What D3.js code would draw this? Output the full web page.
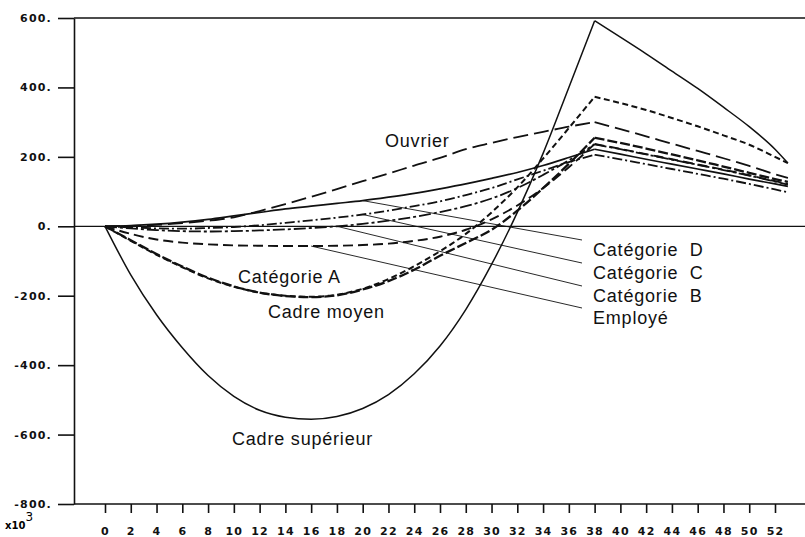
<!DOCTYPE html>
<html>
<head>
<meta charset="utf-8">
<script src="https://cdn.jsdelivr.net/npm/d3@7"></script>
<style>
  body { margin: 0; background: #fff; }
  .lbl { font-family: "Liberation Sans", Arial, sans-serif; font-size: 18px; letter-spacing: 0.8px; fill: #111; }
  .axis text { font-family: "DejaVu Sans", sans-serif; font-weight: bold; font-size: 11px; letter-spacing: 1.2px; fill: #111; }
  .axis line, .axis path { stroke: #111; stroke-width: 1.6px; }
</style>
</head>
<body>
<svg id="canvas"></svg>
<script>
// data (age, thousands)
const ages = [0, 2, 4, 6, 8, 10, 12, 14, 16, 18, 20, 22, 24, 26, 28, 30, 32, 34, 36, 38, 40, 42, 44, 46, 48, 50, 52, 53];

const cadreSup   = [0, -140, -255, -350, -430, -490, -530, -550, -556, -548, -525, -485, -425, -345, -240, -110, 40, 210, 400, 592, 545, 497, 447, 397, 343, 287, 222, 182];
const cadreMoyen = [0, -42, -82, -118, -150, -174, -191, -200, -203, -197, -180, -152, -115, -72, -22, 40, 112, 195, 283, 373, 355, 335, 312, 288, 262, 235, 200, 182];
const catA       = [0, -40, -80, -116, -148, -173, -191, -201, -204, -199, -182, -158, -125, -85, -48, -10, 45, 110, 180, 255, 240, 224, 207, 190, 172, 154, 136, 128];
const ouvrier    = [0, 1, 4, 9, 16, 26, 44, 64, 85, 107, 130, 152, 175, 197, 222, 240, 257, 272, 287, 300, 280, 259, 238, 217, 196, 174, 150, 139];
const employe    = [0, -22, -38, -47, -52, -55, -56, -57, -57, -56, -54, -50, -42, -30, -10, 20, 60, 110, 170, 237, 223, 208, 193, 178, 163, 147, 130, 122];
const catB       = [0, -6, -11, -14, -15, -14, -12, -9, -5, 0, 7, 16, 27, 41, 58, 80, 110, 148, 190, 236, 222, 207, 192, 177, 162, 146, 129, 120];
const catD       = [0, 2, 6, 12, 20, 30, 40, 50, 58, 66, 74, 84, 95, 108, 122, 138, 155, 175, 198, 222, 208, 193, 179, 165, 151, 136, 122, 115];
const catC       = [0, -3, -6, -7, -5, -2, 3, 10, 17, 25, 34, 45, 58, 72, 90, 110, 135, 160, 185, 206, 193, 179, 165, 151, 137, 122, 106, 98];

const xTicks = d3.range(0, 53, 2);
const yTicks = [600, 400, 200, 0, -200, -400, -600, -800];

// series: name, values, dash, width
const series = [
  ['Cadre supérieur', cadreSup, null, 1.5],
  ['Cadre moyen', cadreMoyen, '6,3.5', 2],
  ['Catégorie A', catA, '10,3', 2.3],
  ['Ouvrier', ouvrier, '15,6', 1.8],
  ['Employé', employe, '10,5', 1.9],
  ['Catégorie B', catB, '12,3,3,3', 1.8],
  ['Catégorie D', catD, null, 1.7],
  ['Catégorie C', catC, '10,3,2,3', 1.8]
];

// curve labels: text, x, y (baseline)
const curveLabels = [
  ['Ouvrier', 385, 147],
  ['Catégorie A', 238, 283],
  ['Cadre moyen', 268, 318],
  ['Cadre supérieur', 232, 445]
];

// leader labels: text, series values, age on curve, label baseline y
const leaders = [
  ['Catégorie D', catD, 20, 256],
  ['Catégorie C', catC, 20, 279],
  ['Catégorie B', catB, 18, 302],
  ['Employé', employe, 16, 324]
];

let w = 805;
let h = 537;

let canvas = d3.select('#canvas')
canvas.attr('width', w)
canvas.attr('height', h)

let xScale = d3.scaleLinear().domain([0, 52]).range([105, 775])
let yScale = d3.scaleLinear().domain([-800, 600]).range([504, 18])

let drawAxes = () => {
  let yAxis = d3.axisLeft(yScale)
    .tickValues(yTicks)
    .tickSize(16)
    .tickSizeOuter(0)
    .tickPadding(6)
    .tickFormat(d => d + '.')

  canvas.append('g')
    .attr('class', 'axis')
    .attr('transform', 'translate(74,0)')
    .call(yAxis)

  let xAxis = d3.axisBottom(xScale)
    .tickValues(xTicks)
    .tickSize(9)
    .tickPadding(14)
    .tickFormat(d3.format('d'))

  let gx = canvas.append('g')
    .attr('class', 'axis')
    .attr('transform', 'translate(0,' + yScale(-800) + ')')
    .call(xAxis)
  gx.select('.domain').remove()

  // frame lines: bottom, top and zero line run to the right edge
  canvas.append('line')
    .attr('x1', 74).attr('x2', w)
    .attr('y1', yScale(-800)).attr('y2', yScale(-800))
    .attr('stroke', '#111').attr('stroke-width', 1.6)
  canvas.append('line')
    .attr('x1', 74).attr('x2', w)
    .attr('y1', yScale(600)).attr('y2', yScale(600))
    .attr('stroke', '#111').attr('stroke-width', 1.6)
  canvas.append('line')
    .attr('x1', 74).attr('x2', w)
    .attr('y1', yScale(0)).attr('y2', yScale(0))
    .attr('stroke', '#111').attr('stroke-width', 1.3)

  let unit = canvas.append('text')
    .attr('x', 5).attr('y', 529)
    .style('font-family', '"DejaVu Sans", sans-serif')
    .style('font-size', '10px')
    .style('font-weight', 'bold')
    .text('x10')
  unit.append('tspan').attr('dy', -8).style('font-size', '12px').style('font-weight', 'normal').text('3')
}

let drawCurves = () => {
  let line = d3.line()
    .x(d => xScale(d[0]))
    .y(d => yScale(d[1]))
    .curve(d3.curveMonotoneX)

  let k = ages.indexOf(38)
  series.forEach(s => {
    let pts = ages.map((a, i) => [a, s[1][i]])
    // rising part and falling part, kink at 38
    ;[pts.slice(0, k + 1), pts.slice(k)].forEach(p => {
      canvas.append('path')
        .attr('d', line(p))
        .attr('fill', 'none')
        .attr('stroke', '#111')
        .attr('stroke-width', s[3])
        .attr('stroke-dasharray', s[2])
    })
  })
}

let drawLabels = () => {
  curveLabels.forEach(l => {
    canvas.append('text')
      .attr('class', 'lbl')
      .attr('x', l[1]).attr('y', l[2])
      .text(l[0])
  })

  leaders.forEach(l => {
    let i = ages.indexOf(l[2])
    canvas.append('line')
      .attr('x1', xScale(l[2])).attr('y1', yScale(l[1][i]))
      .attr('x2', 582).attr('y2', l[3] - 16)
      .attr('stroke', '#111').attr('stroke-width', 0.9)
    canvas.append('text')
      .attr('class', 'lbl')
      .attr('x', 593).attr('y', l[3])
      .text(l[0].replace(' ', '\u00a0 '))
  })
}

drawAxes();
drawCurves();
drawLabels();
</script>
</body>
</html>
